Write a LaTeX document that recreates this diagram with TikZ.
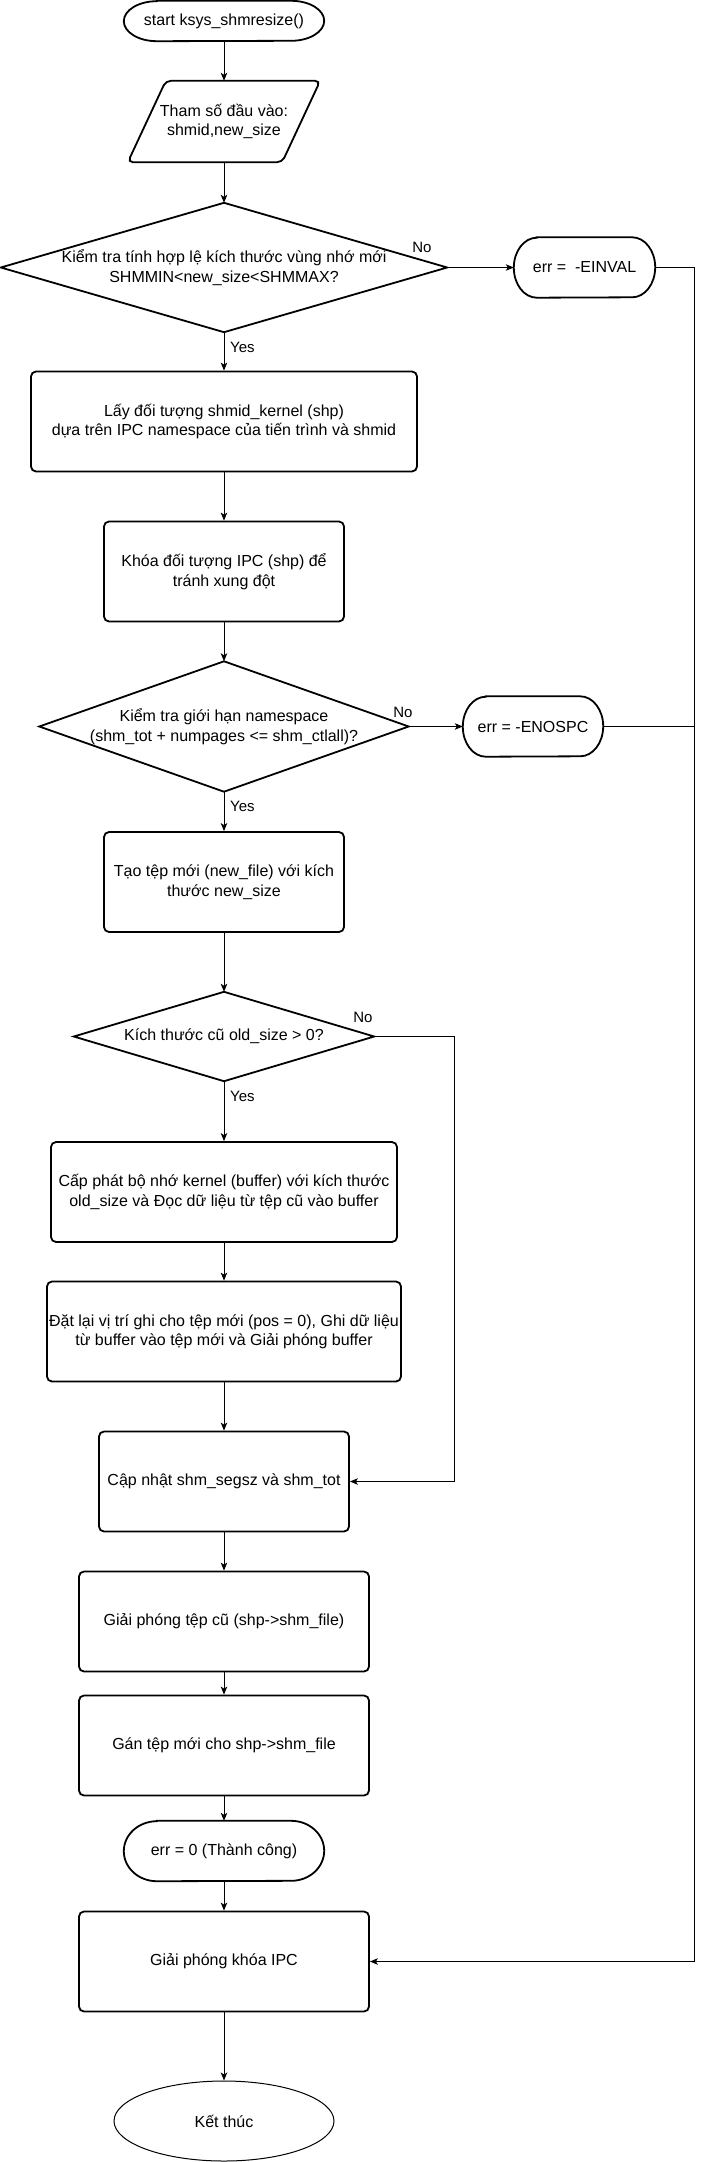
\documentclass[tikz,border=0pt]{standalone}
\usepackage{fontspec}
\setmainfont{Liberation Sans}
\usetikzlibrary{shapes.geometric,arrows.meta}
\tikzset{
  base/.style={inner sep=0pt, align=center, font=\fontsize{16}{19.5}\selectfont},
  proc/.style={base, draw, rounded corners=5pt, line width=1.8pt, minimum width=#1, minimum height=100pt},
  hold/.style 2 args={base, minimum width=#1, minimum height=#2},
  outline/.style={draw, line width=1.8pt},
  conn/.style={draw, line width=1pt, -{Stealth[length=8pt,width=6.5pt,inset=2pt]}},
  plain/.style={draw, line width=1pt},
  lbl/.style={font=\fontsize{15}{18}\selectfont, inner sep=0pt},
}
\newcommand\termoutline[3]{%
  \draw[outline] ([xshift=#2]#1.north west) -- ([xshift=-#2]#1.north east)
    arc[start angle=90,end angle=-90,x radius=#2,y radius=#3]
    -- ([xshift=#2]#1.south west)
    arc[start angle=270,end angle=90,x radius=#2,y radius=#3] -- cycle;}
\begin{document}
\begin{tikzpicture}[x=1pt,y=1pt]
\useasboundingbox[fill=white] (0,0) rectangle (704,-2162);

% nodes
\node[hold={200pt}{40pt}] (start) at (224,-21) {start ksys\_shmresize()};
\node[hold={192pt}{81pt}] (in) at (224,-121.5) {Tham số đầu vào:\\shmid,new\_size};
\node[hold={446pt}{129pt}] (d1) at (224,-267.5) {Kiểm tra tính hợp lệ kích thước vùng nhớ mới\\SHMMIN<new\_size<SHMMAX?};
\node[hold={141pt}{60pt}] (einval) at (584.5,-267.5) {err =\ \ -EINVAL};
\node[proc=386pt] (r1) at (224,-421.5) {Lấy đối tượng shmid\_kernel (shp)\\dựa trên IPC namespace của tiến trình và shmid};
\node[proc=240pt] (r2) at (224,-571.5) {Khóa đối tượng IPC (shp) để\\tránh xung đột};
\node[hold={369pt}{130pt}] (d2) at (224,-726.5) {Kiểm tra giới hạn namespace\\(shm\_tot + numpages <= shm\_ctlall)?};
\node[hold={140pt}{60pt}] (enospc) at (533,-726.5) {err = -ENOSPC};
\node[proc=240pt] (r3) at (224,-882) {Tạo tệp mới (new\_file) với kích\\thước new\_size};
\node[hold={300pt}{89pt}] (d3) at (224,-1036.5) {Kích thước cũ old\_size > 0?};
\node[proc=346pt] (r4) at (224,-1192) {Cấp phát bộ nhớ kernel (buffer) với kích thước\\old\_size và Đọc dữ liệu từ tệp cũ vào buffer};
\node[proc=354pt] (r5) at (224,-1331.5) {Đặt lại vị trí ghi cho tệp mới (pos = 0), Ghi dữ liệu\\từ buffer vào tệp mới và Giải phóng buffer};
\node[proc=250pt] (r6) at (224,-1481.5) {Cập nhật shm\_segsz và shm\_tot};
\node[proc=290pt] (r7) at (224,-1621.5) {Giải phóng tệp cũ (shp->shm\_file)};
\node[proc=290pt] (r8) at (224,-1745.5) {Gán tệp mới cho shp->shm\_file};
\node[hold={200pt}{60pt}] (ok) at (224,-1851) {err = 0 (Thành công)};
\node[proc=290pt] (r9) at (224,-1961.5) {Giải phóng khóa IPC};
\node[base, draw, ellipse, line width=1pt, minimum width=220pt, minimum height=80pt] (end) at (224,-2121) {Kết thúc};

% outlines
\termoutline{start}{33pt}{20pt}
\termoutline{einval}{23pt}{30pt}
\termoutline{enospc}{23pt}{30pt}
\termoutline{ok}{33pt}{30pt}
\draw[outline, rounded corners=5pt] ([xshift=38pt]in.north west) -- (in.north east)
  -- ([xshift=-38pt]in.south east) -- (in.south west) -- cycle;
\draw[outline] (d1.north) -- (d1.east) -- (d1.south) -- (d1.west) -- cycle;
\draw[outline] (d2.north) -- (d2.east) -- (d2.south) -- (d2.west) -- cycle;
\draw[outline] (d3.north) -- (d3.east) -- (d3.south) -- (d3.west) -- cycle;

% main connectors
\draw[conn] (start) -- (in);
\draw[conn] (in) -- (d1);
\draw[conn] (d1) -- (r1);
\draw[conn] (r1) -- (r2);
\draw[conn] (r2) -- (d2);
\draw[conn] (d2) -- (r3);
\draw[conn] (r3) -- (d3);
\draw[conn] (d3) -- (r4);
\draw[conn] (r4) -- (r5);
\draw[conn] (r5) -- (r6);
\draw[conn] (r6) -- (r7);
\draw[conn] (r7) -- (r8);
\draw[conn] (r8) -- (ok);
\draw[conn] (ok) -- (r9);
\draw[conn] (r9) -- (end);

% side connectors
\coordinate (bus) at (694,0);
\coordinate (bustwo) at (454,0);
\draw[conn] (d1.east) -- (einval.west);
\draw[conn] (d2.east) -- (enospc.west);
\draw[conn] (einval.east) -- (einval.east -| bus) -- (r9.east -| bus) -- (r9.east);
\draw[plain] (enospc.east) -- (enospc.east -| bus);
\draw[conn] (d3.east) -- (d3.east -| bustwo) -- (r6.east -| bustwo) -- (r6.east);

% labels
\node[lbl, anchor=west] (yes1) at (230,-347) {Yes};
\node[lbl, anchor=west] (yes2) at (230,-806) {Yes};
\node[lbl, anchor=west] (yes3) at (230,-1096) {Yes};
\node[lbl] (no1) at (422,-247) {No};
\node[lbl] (no2) at (403,-712) {No};
\node[lbl] (no3) at (363,-1017) {No};
\end{tikzpicture}
\end{document}
